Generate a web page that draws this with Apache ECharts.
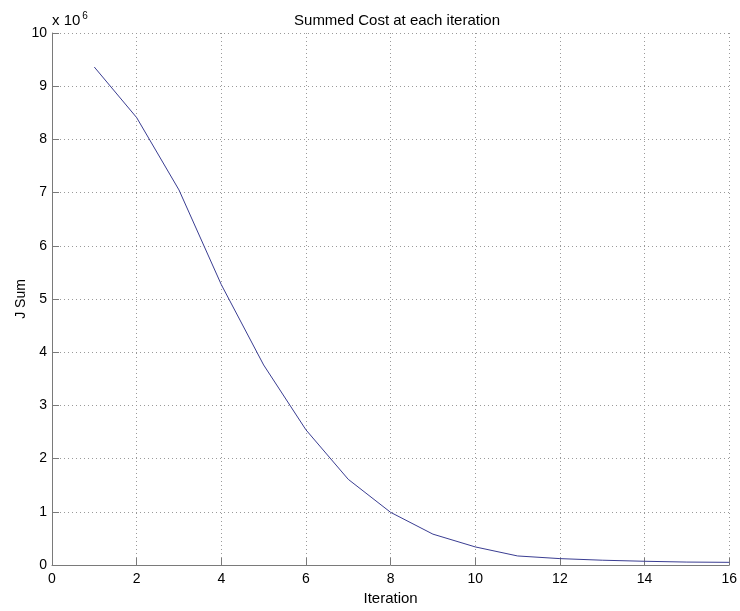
<!DOCTYPE html>
<html>
<head>
<meta charset="utf-8">
<script src="https://cdn.jsdelivr.net/npm/echarts@6/dist/echarts.min.js"></script>
<style>
  html, body { margin: 0; padding: 0; background: #fff; }
  #chart { width: 740px; height: 611px; }
</style>
</head>
<body>
<div id="chart"></div>
<script>
// Iteration numbers and summed cost (in units of 10^6)
const iterations = [1, 2, 3, 4, 5, 6, 7, 8, 9, 10, 11, 12, 13, 14, 15, 16];
const jSum = [9.36, 8.41, 7.05, 5.27, 3.76, 2.54, 1.61, 0.99, 0.58, 0.34, 0.17, 0.12, 0.09, 0.07, 0.055, 0.05];

const chart = echarts.init(document.getElementById('chart'), null, { renderer: 'canvas' });

const gridLine = { show: true, lineStyle: { color: '#9a9a9a', type: [1, 3], width: 1 } };
const axisLineStyle = { show: true, lineStyle: { color: '#7a7a7a', width: 1 } };
const font = 'Liberation Sans, Arial, sans-serif';

chart.setOption({
  animation: false,
  backgroundColor: '#ffffff',
  title: {
    text: 'Summed Cost at each iteration',
    left: 392, top: 8, textAlign: 'center',
    textStyle: { fontFamily: font, fontSize: 15, fontWeight: 'normal', color: '#000' }
  },
  grid: { left: 52, right: 8, top: 33, bottom: 44 },
  xAxis: {
    type: 'value', min: 0, max: 16, interval: 2,
    name: 'Iteration', nameLocation: 'middle', nameGap: 26, nameMoveOverlap: false,
    nameTextStyle: { fontFamily: font, fontSize: 15, color: '#000' },
    axisLine: axisLineStyle,
    axisTick: { show: true, inside: true, length: 7, lineStyle: { color: '#7a7a7a' } },
    axisLabel: { fontFamily: font, fontSize: 14, color: '#000', margin: 7 },
    splitLine: gridLine
  },
  yAxis: {
    type: 'value', min: 0, max: 10, interval: 1,
    name: 'J Sum', nameLocation: 'middle', nameGap: 24, nameRotate: 90, nameMoveOverlap: false,
    nameTextStyle: { fontFamily: font, fontSize: 14, color: '#000' },
    axisLine: axisLineStyle,
    axisTick: { show: true, inside: true, length: 7, lineStyle: { color: '#7a7a7a' } },
    axisLabel: { fontFamily: font, fontSize: 14, color: '#000', margin: 5 },
    splitLine: gridLine
  },
  graphic: [{
    type: 'text', left: 52, top: 11,
    style: {
      text: '{base|x 10}{sup|6}',
      fill: '#000',
      rich: {
        base: { fontSize: 15, fontFamily: font, fill: '#000' },
        sup: { fontSize: 10, fontFamily: font, fill: '#000', verticalAlign: 'top', padding: [0, 0, 10, 2] }
      }
    }
  }],
  series: [{
    type: 'line',
    data: iterations.map((it, i) => [it, jSum[i]]),
    showSymbol: false,
    lineStyle: { color: '#3a3d92', width: 1 },
    itemStyle: { color: '#3a3d92' }
  }]
});
</script>
</body>
</html>
